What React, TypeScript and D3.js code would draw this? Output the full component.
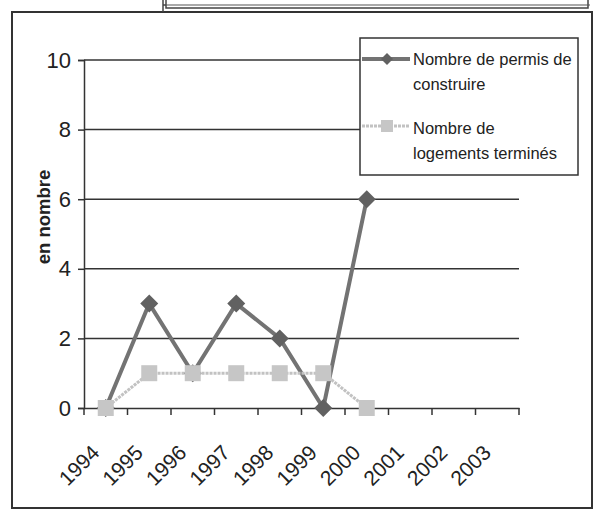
import React, {useEffect, useRef} from 'react';
import * as d3 from 'd3';

const years = ['1994', '1995', '1996', '1997', '1998', '1999', '2000', '2001', '2002', '2003'];
const permis = [0, 3, 1, 3, 2, 0, 6];
const logements = [0, 1, 1, 1, 1, 1, 0];
const yTicks = [0, 2, 4, 6, 8, 10];
const legendPermis = ['Nombre de permis de', 'construire'];
const legendLogements = ['Nombre de', 'logements terminés'];

const App = () => {
    const svgRef = useRef(null);

    useEffect(() => {
        const svg = d3.select(svgRef.current);
        svg.selectAll('*').remove();

        const width = 595;
        const height = 510;
        const margin = {top: 60, left: 84, right: 76, bottom: 102};
        const font = "'Liberation Sans', Arial, sans-serif";

        svg.append('rect').attr('width', width).attr('height', height).attr('fill', '#fff');

        // outer frame + the cut off box above it
        svg.append('rect')
            .attr('x', 12).attr('y', 12).attr('width', 580).attr('height', 496)
            .attr('fill', 'none').attr('stroke', '#333').attr('stroke-width', 2);
        svg.append('path')
            .attr('d', 'M163,0 V12 M166,0 V8 H588 V0 M163,5 H166')
            .attr('fill', 'none').attr('stroke', '#444').attr('stroke-width', 1.5);
        svg.append('path')
            .attr('d', 'M166,5 H590')
            .attr('fill', 'none').attr('stroke', '#555').attr('stroke-width', 1.2);

        const x = d3.scaleBand().domain(years).range([margin.left, width - margin.right]);
        const y = d3.scaleLinear().domain([0, 10]).range([height - margin.bottom, margin.top]);

        // gridlines
        svg.append('g')
            .selectAll('line')
            .data(yTicks.filter((d) => d > 0))
            .join('line')
            .attr('x1', margin.left).attr('x2', width - margin.right)
            .attr('y1', (d) => y(d)).attr('y2', (d) => y(d))
            .attr('stroke', '#333').attr('stroke-width', 1.5);

        // y axis
        const yAxis = d3.axisLeft(y).tickValues(yTicks).tickSize(6).tickPadding(7);
        const gy = svg.append('g').attr('transform', `translate(${margin.left},0)`).call(yAxis);
        gy.select('.domain').attr('stroke', '#333').attr('stroke-width', 1.5);
        gy.selectAll('.tick line').attr('stroke', '#333').attr('stroke-width', 1.5);
        gy.selectAll('.tick text').attr('font-family', font).attr('font-size', 22).attr('fill', '#222');

        // x axis
        const xAxis = d3.axisBottom(x).tickSize(0).tickFormat(() => '');
        const gx = svg.append('g').attr('transform', `translate(0,${y(0)})`).call(xAxis);
        gx.select('.domain').attr('stroke', '#333').attr('stroke-width', 1.5);
        gx.selectAll('.tick').remove();
        const edges = [...years.map((d) => x(d)), width - margin.right];
        svg.append('g')
            .selectAll('line')
            .data(edges)
            .join('line')
            .attr('x1', (d) => d).attr('x2', (d) => d)
            .attr('y1', y(0)).attr('y2', y(0) + 7)
            .attr('stroke', '#333').attr('stroke-width', 1.5);
        svg.append('g')
            .selectAll('text')
            .data(years)
            .join('text')
            .attr('transform', (d) => `translate(${x(d) + x.bandwidth() / 2 - 5},${y(0) + 46}) rotate(-45)`)
            .attr('text-anchor', 'end')
            .attr('font-family', font).attr('font-size', 21).attr('fill', '#222')
            .text((d) => d);

        // y title
        svg.append('text')
            .attr('transform', `translate(50,217) rotate(-90)`)
            .attr('text-anchor', 'middle')
            .attr('font-family', font).attr('font-size', 18.5).attr('font-weight', 'bold').attr('fill', '#222')
            .text('en nombre');

        const cx = (i) => x(years[i]) + x.bandwidth() / 2;
        const line = d3.line().x((d, i) => cx(i)).y((d) => y(d));

        const diamond = (g, px, py, r, fill) =>
            g.append('path')
                .attr('d', `M${px},${py - r} L${px + r},${py} L${px},${py + r} L${px - r},${py} Z`)
                .attr('fill', fill);

        // permis series
        svg.append('path')
            .datum(permis)
            .attr('d', line)
            .attr('fill', 'none').attr('stroke', '#737373').attr('stroke-width', 4)
            .attr('stroke-linejoin', 'round');
        const gp = svg.append('g');
        permis.forEach((d, i) => diamond(gp, cx(i), y(d), 9, '#616161'));

        // logements series
        svg.append('path')
            .datum(logements)
            .attr('d', line)
            .attr('fill', 'none').attr('stroke', '#c2c2c2').attr('stroke-width', 3)
            .attr('stroke-dasharray', '3,1');
        svg.append('g')
            .selectAll('rect')
            .data(logements)
            .join('rect')
            .attr('x', (d, i) => cx(i) - 8).attr('y', (d) => y(d) - 8)
            .attr('width', 16).attr('height', 16)
            .attr('fill', '#c6c6c6');

        // legend
        const lg = svg.append('g');
        lg.append('rect')
            .attr('x', 360).attr('y', 38).attr('width', 218).attr('height', 137)
            .attr('fill', '#fff').attr('stroke', '#333').attr('stroke-width', 1.5);
        lg.append('line').attr('x1', 362).attr('x2', 410).attr('y1', 59).attr('y2', 59)
            .attr('stroke', '#737373').attr('stroke-width', 4);
        diamond(lg, 387, 59, 6, '#616161');
        lg.append('line').attr('x1', 362).attr('x2', 410).attr('y1', 126).attr('y2', 126)
            .attr('stroke', '#c2c2c2').attr('stroke-width', 3).attr('stroke-dasharray', '3,1');
        lg.append('rect').attr('x', 381).attr('y', 120).attr('width', 12).attr('height', 12).attr('fill', '#c6c6c6');
        const legendText = (lines, y0) =>
            lg.append('g')
                .selectAll('text')
                .data(lines)
                .join('text')
                .attr('x', 413).attr('y', (d, i) => y0 + i * 25)
                .attr('font-family', font).attr('font-size', 16.5).attr('fill', '#222')
                .text((d) => d);
        legendText(legendPermis, 65);
        legendText(legendLogements, 134);
    }, []);

    return (
        <svg ref={svgRef} width={595} height={510} style={{position: 'absolute', left: 0, top: 0}} />
    );
};

export default App;
